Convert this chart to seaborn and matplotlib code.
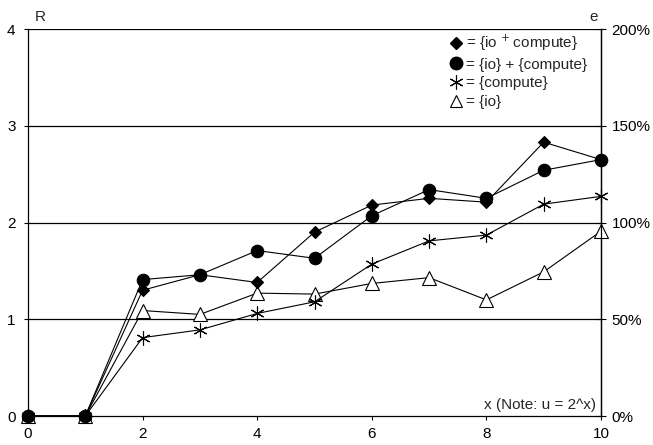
import matplotlib
matplotlib.use("Agg")
import matplotlib.pyplot as plt
import seaborn as sns
import pandas as pd
from matplotlib.ticker import FuncFormatter
from matplotlib.lines import Line2D

x = [0, 1, 2, 3, 4, 5, 6, 7, 8, 9, 10]
io_plus_compute = [0, 0, 1.30, 1.46, 1.38, 1.90, 2.18, 2.25, 2.21, 2.83, 2.65]
io_and_compute = [0, 0, 1.41, 1.46, 1.71, 1.63, 2.07, 2.34, 2.25, 2.54, 2.65]
compute = [0, 0, 0.81, 0.89, 1.06, 1.18, 1.57, 1.81, 1.87, 2.19, 2.27]
io = [0, 0, 1.09, 1.05, 1.27, 1.26, 1.37, 1.43, 1.20, 1.49, 1.91]
labels = ["= {io $^{+}$\u2009compute}", "= {io} + {compute}", "= {compute}", "= {io}"]

sns.set_theme(style="white")
plt.rcParams['font.family'] = ['Liberation Sans', 'DejaVu Sans']
FS = 11

fig = plt.figure(figsize=(6.53, 4.45), dpi=100)
ax = fig.add_axes([28/653, (445-416)/445, (601-28)/653, (416-29)/445])

series = [
    (io, '^', 'white', 9.5),
    (compute, (6, 2, 0), 'black', 10),
    (io_and_compute, 'o', 'black', 9),
    (io_plus_compute, 'D', 'black', 6.5),
]
for vals, mk, fc, ms in series:
    df = pd.DataFrame({"x": x, "y": vals})
    sns.lineplot(data=df, x="x", y="y", ax=ax, color='black', lw=0.8,
                 marker=mk, markersize=ms, markerfacecolor=fc,
                 markeredgecolor='black', markeredgewidth=0.8, clip_on=False,
                 zorder=3)

ax.set_xlim(0, 10)
ax.set_ylim(0, 4)
ax.set_xticks([0, 2, 4, 6, 8, 10])
ax.set_yticks([0, 1, 2, 3, 4])
ax.set_xlabel("")
ax.set_ylabel("")
for yv in [1, 2, 3, 4]:
    ax.axhline(yv, color='black', lw=0.9, zorder=1)
for s in ['left', 'bottom', 'right']:
    ax.spines[s].set_visible(True)
    ax.spines[s].set_color('black')
    ax.spines[s].set_linewidth(0.9)
ax.spines['top'].set_visible(False)
ax.tick_params(axis='both', direction='out', length=3, width=0.8, color='black',
               labelsize=FS, labelcolor='black', left=True, bottom=True)
ax.tick_params(axis='x', pad=5)
ax.tick_params(axis='y', pad=6)

ax2 = ax.twinx()
ax2.set_ylim(0, 2)
ax2.set_yticks([0, 0.5, 1.0, 1.5, 2.0])
ax2.yaxis.set_major_formatter(FuncFormatter(lambda v, p: f"{int(round(v*100))}%"))
ax2.tick_params(axis='y', direction='inout', length=7, width=0.8, color='black',
                labelsize=FS, labelcolor='black', right=True, pad=4)
for s in ['left', 'bottom', 'top']:
    ax2.spines[s].set_visible(False)
ax2.spines['right'].set_color('black')
ax2.spines['right'].set_linewidth(0.9)
ax2.grid(False)
ax.grid(False)

ax.text(0.21, 4.055, "R", ha='center', va='bottom', fontsize=FS)
ax.text(9.88, 4.055, "e", ha='center', va='bottom', fontsize=FS)
ax.text(9.92, 0.04, "x (Note: u = 2^x)", ha='right', va='bottom', fontsize=FS)

handles = [
    Line2D([], [], ls='none', marker='D', color='black', markersize=6),
    Line2D([], [], ls='none', marker='o', color='black', markersize=9),
    Line2D([], [], ls='none', marker=(6, 2, 0), color='black', markersize=10, markeredgewidth=0.8),
    Line2D([], [], ls='none', marker='^', markerfacecolor='white', markeredgecolor='black',
           markersize=9, markeredgewidth=0.8),
]
leg = ax.legend(handles, labels, loc='upper left', bbox_to_anchor=(0.733, 0.99),
                frameon=False, fontsize=FS, handlelength=1.0, handletextpad=0.2,
                labelspacing=0.3, borderpad=0, borderaxespad=0)

fig.savefig("out.png", dpi=100)
